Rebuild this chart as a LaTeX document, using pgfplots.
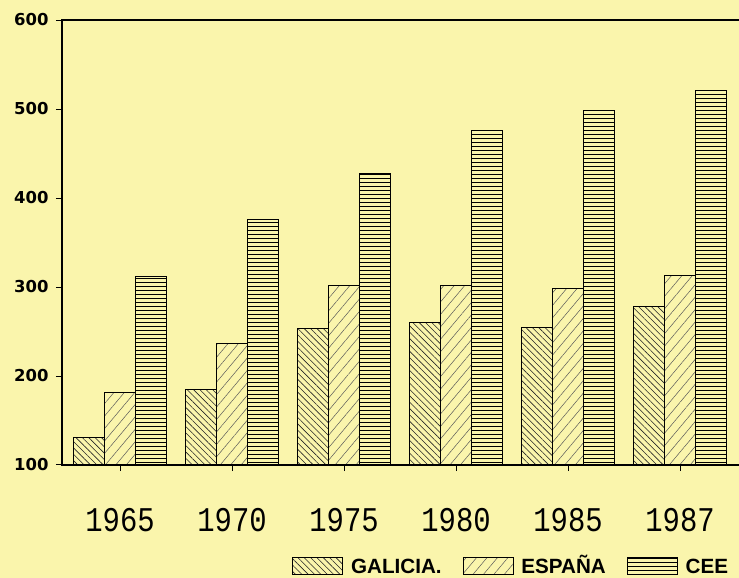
\documentclass[border=0pt]{standalone}
\usepackage{fontspec}
\setmainfont{Liberation Sans}
\newfontfamily\yearfont{Liberation Mono}
\newfontfamily\tickfont{DejaVu Sans}
\usepackage{pgfplots}
\pgfplotsset{compat=1.18}
\usetikzlibrary{patterns.meta}
\definecolor{paper}{RGB}{250,245,172}

\pgfplotsset{
  legbox/.style={legend image code/.code={\draw[##1,line width=0.8bp] (0bp,-8.5bp) rectangle (50bp,8.5bp);}},
}
\newcommand{\yr}[1]{\scalebox{1}[1.2]{#1}}

\begin{document}
\begin{tikzpicture}
\fill[paper] (0bp,0bp) rectangle (739bp,578bp);
\useasboundingbox (0bp,0bp) rectangle (739bp,578bp);
\begin{axis}[
    at={(62bp,113bp)}, anchor=south west,
    scale only axis, width=683bp, height=445bp,
    ybar=0pt, bar width=0.277,
    xmin=-0.518, xmax=5.58,
    ymin=100, ymax=600,
    xtick={0,1,2,3,4,5},
    xticklabels={\yr{1965},\yr{1970},\yr{1975},\yr{1980},\yr{1985},\yr{1987}},
    ytick={100,200,300,400,500,600},
    yticklabels={100,200,300,400,500,600},
    tick align=outside, xtick pos=bottom, ytick pos=left,
    major tick length=6bp,
    every tick/.style={black, line width=1bp},
    axis line style={line width=1.6bp},
    yticklabel style={font=\tickfont\bfseries\fontsize{16.5}{16.5}\selectfont, anchor=east, xshift=-4bp},
    xticklabel style={font=\yearfont\fontsize{29}{29}\selectfont, yshift=-34bp},
    legend style={draw=none, fill=none, at={(0.337,-0.227)}, anchor=west,
        font=\bfseries\fontsize{20.7}{20.7}\selectfont, inner sep=0pt,
        nodes={text height=14bp, text depth=0bp},
        /tikz/every odd column/.append style={column sep=6bp},
        /tikz/every even column/.append style={column sep=19bp}},
    legend columns=3,
    legend cell align=left,
]
\addplot[draw=black, line width=1bp, legbox,
    pattern={Lines[angle=-45,distance=4.5bp,line width=0.6bp]}, pattern color=black!85]
    coordinates {(0,131) (1,185) (2,253) (3,260) (4,255) (5,278)};
\addplot[draw=black, line width=1bp, legbox,
    pattern={Lines[angle=50,distance=8bp,line width=0.5bp]}, pattern color=black!65]
    coordinates {(0,181) (1,237) (2,302) (3,302) (4,298) (5,313)};
\addplot[draw=black, line width=1bp, legbox,
    pattern={Lines[angle=0,distance=4bp,line width=0.9bp]}, pattern color=black]
    coordinates {(0,312) (1,376) (2,427) (3,476) (4,498) (5,521)};
\legend{GALICIA., ESPAÑA, CEE}
\end{axis}
\end{tikzpicture}
\end{document}
